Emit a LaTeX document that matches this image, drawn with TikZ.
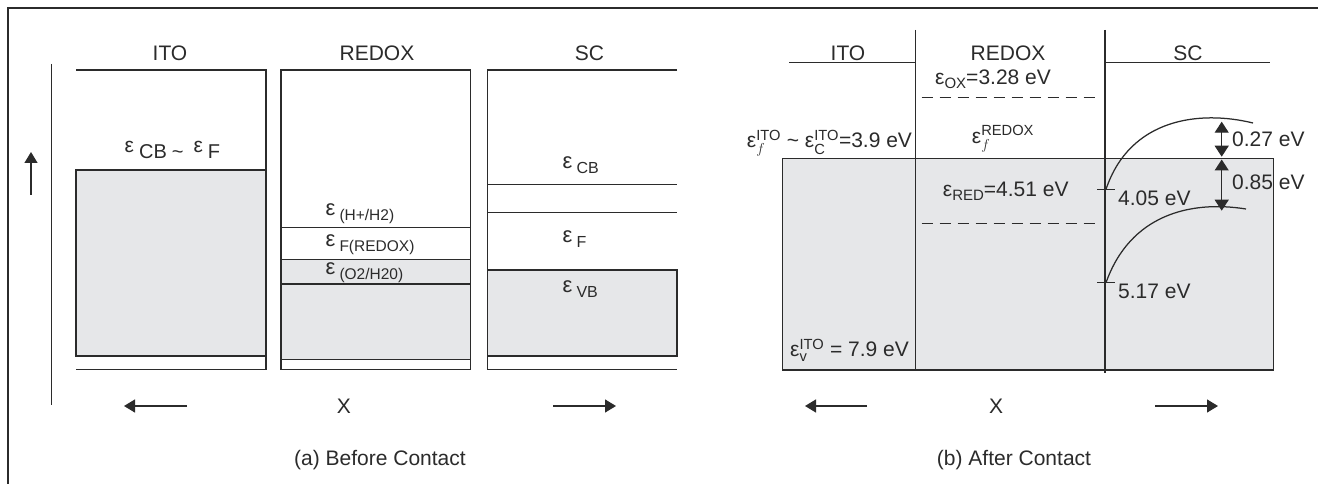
\documentclass[tikz,border=0pt]{standalone}
\usepackage{fontspec}
\usepackage{amsmath}
\setmainfont{Liberation Sans}
\usetikzlibrary{arrows.meta}
\definecolor{ln}{HTML}{2B2B2B}
\definecolor{gfill}{HTML}{E6E7E9}
\newcommand\fsz[1]{\fontsize{#1}{#1}\selectfont}
\begin{document}
\begin{tikzpicture}[x=1pt,y=-1pt,
  line/.style={draw=ln,line width=1.25pt},
  band/.style={fill=gfill,draw=ln,line width=1.25pt},
  lbl/.style={inner sep=0pt,text=ln,font=\fsz{21}},
  arr/.style={draw=ln,line width=1.25pt,-{Triangle[length=11pt,width=13pt]}},
  darr/.style={draw=ln,line width=1.25pt,{Triangle[length=11pt,width=14pt]}-{Triangle[length=11pt,width=14pt]}},
  dashline/.style={draw=ln,line width=1.25pt,dash pattern=on 11pt off 7pt}]
\useasboundingbox (0,0) rectangle (1318,484);
\fill[white] (0,0) rectangle (1318,484);
% frame
\draw[ln,line width=1.8pt] (8,484) -- (8,8) -- (1318,8);

% ================= panel (a) =================
\draw[line] (51.7,64) -- (51.7,405);
\coordinate (upS) at (31,195); \coordinate (upE) at (31,152);
\draw[arr] (upS) -- (upE);
% ITO
\draw[band] (76,170) rectangle (266,356);
\draw[line] (76,70) -- (266,70) -- (266,369.5) -- (76,369.5);
% REDOX
\draw[band] (281,259.3) rectangle (470.7,359.3);
\draw[line] (281,70) rectangle (470.7,369.5);
\draw[line] (281,227.3) -- (470.7,227.3);
\draw[line] (281,284) -- (470.7,284);
% SC
\draw[band] (487.7,270) rectangle (677,356);
\draw[line] (677,70) -- (487.7,70) -- (487.7,369.5) -- (677,369.5);
\draw[line] (487.7,184.3) -- (677,184.3);
\draw[line] (487.7,212.3) -- (677,212.3);

\node[lbl,anchor=base] (aITO) at (170,61) {ITO};
\node[lbl,anchor=base] (aREDOX) at (377,61) {REDOX};
\node[lbl,anchor=base] (aSC) at (589.5,61) {SC};

\node[lbl,anchor=base west] (aEF) at (124.5,152.7) {{\fsz{21}ε}\hspace{5pt}\raisebox{-5.5pt}{\fsz{20}CB\hspace{5pt}\textasciitilde}\hspace{10pt}{\fsz{21}ε}\hspace{5pt}\raisebox{-5.5pt}{\fsz{20}F}};
\node[lbl,anchor=base west] (aH) at (325.5,215) {{\fsz{22}ε}\hspace{4pt}\raisebox{-5pt}{\fsz{15.5}(H+/H2)}};
\node[lbl,anchor=base west] (aFR) at (325.5,246) {{\fsz{22}ε}\hspace{4pt}\raisebox{-5.5pt}{\fsz{15.5}F(REDOX)}};
\node[lbl,anchor=base west] (aO) at (325.5,274) {{\fsz{22}ε}\hspace{4pt}\raisebox{-5pt}{\fsz{15.5}(O2/H20)}};
\node[lbl,anchor=base west] (aCB) at (562.5,168.3) {{\fsz{22}ε}\hspace{4pt}\raisebox{-5pt}{\fsz{16}CB}};
\node[lbl,anchor=base west] (aF) at (562.5,242.7) {{\fsz{22}ε}\hspace{4pt}\raisebox{-5pt}{\fsz{16}F}};
\node[lbl,anchor=base west] (aVB) at (562.5,292.7) {{\fsz{22}ε}\hspace{4pt}\raisebox{-4.6pt}{\fsz{16}VB}};

\coordinate (aL1) at (187,406); \coordinate (aL2) at (124,406);
\coordinate (aR1) at (553,406); \coordinate (aR2) at (616,406);
\draw[arr] (aL1) -- (aL2);
\draw[arr] (aR1) -- (aR2);
\node[lbl,anchor=base] (aX) at (344,413) {X};
\node[lbl,anchor=base] (aCap) at (380,465) {(a) Before Contact};

% ================= panel (b) =================
\draw[band] (782.3,158.3) rectangle (1273.3,370);
\draw[line] (789,62.3) -- (915.7,62.3);
\draw[line] (1105,62.3) -- (1270,62.3);
\draw[line] (915.7,30) -- (915.7,370);
\draw[line] (1105,30) -- (1105,373);
\draw[dashline] (921.7,97.7) -- (1100.7,97.7);
\draw[dashline] (921.7,223.7) -- (1100.7,223.7);

% band bending curves
\coordinate (cbS) at (1106,189.3); \coordinate (cbE) at (1253,123);
\coordinate (vbS) at (1106,282.7); \coordinate (vbE) at (1246,209);
\draw[line] (cbS) .. controls (1130,118) and (1200,110) .. (cbE);
\draw[line] (vbS) .. controls (1130,215) and (1190,200) .. (vbE);
% ticks
\draw[line] (1097,189.3) -- (1115,189.3);
\draw[line] (1097,282.7) -- (1115,282.7);
% double arrows
\coordinate (d1a) at (1221.7,121.7); \coordinate (d1b) at (1221.7,156.7);
\coordinate (d2a) at (1221.7,159.5); \coordinate (d2b) at (1221.7,210.7);
\draw[darr] (d1a) -- (d1b);
\draw[darr] (d2a) -- (d2b);

\node[lbl,anchor=base] (bITO) at (848,61) {ITO};
\node[lbl,anchor=base] (bREDOX) at (1008,61) {REDOX};
\node[lbl,anchor=base] (bSC) at (1188,61) {SC};

\node[lbl,anchor=base west] (bOX) at (935,85) {ε\raisebox{-4pt}{\fsz{15}OX}=3.28 eV};
\node[lbl,anchor=base west] (bFR) at (971.7,143.3) {$\text{ε}_{f}^{\text{REDOX}}$};
\node[lbl,anchor=base west] (bFI) at (746.7,148) {$\text{ε}_{f}^{\text{ITO}}$ \textasciitilde{} $\text{ε}_{\text{C}}^{\text{ITO}}$=3.9 eV};
\node[lbl,anchor=base west] (bRED) at (942.7,196.7) {ε\raisebox{-4pt}{\fsz{15}RED}=4.51 eV};
\node[lbl,anchor=base west] (bV) at (790,356.7) {$\text{ε}_{\text{v}}^{\text{ITO}}$ = 7.9 eV};
\node[lbl,anchor=base west] (b405) at (1118,205) {4.05 eV};
\node[lbl,anchor=base west] (b517) at (1118,298) {5.17 eV};
\node[lbl,anchor=base west] (b027) at (1232,146.7) {0.27 eV};
\node[lbl,anchor=base west] (b085) at (1232,189.3) {0.85 eV};

\coordinate (bL1) at (867,406); \coordinate (bL2) at (805,406);
\coordinate (bR1) at (1155,406); \coordinate (bR2) at (1218,406);
\draw[arr] (bL1) -- (bL2);
\draw[arr] (bR1) -- (bR2);
\node[lbl,anchor=base] (bX) at (996,413) {X};
\node[lbl,anchor=base] (bCap) at (1014,465) {(b) After Contact};
\end{tikzpicture}
\end{document}
